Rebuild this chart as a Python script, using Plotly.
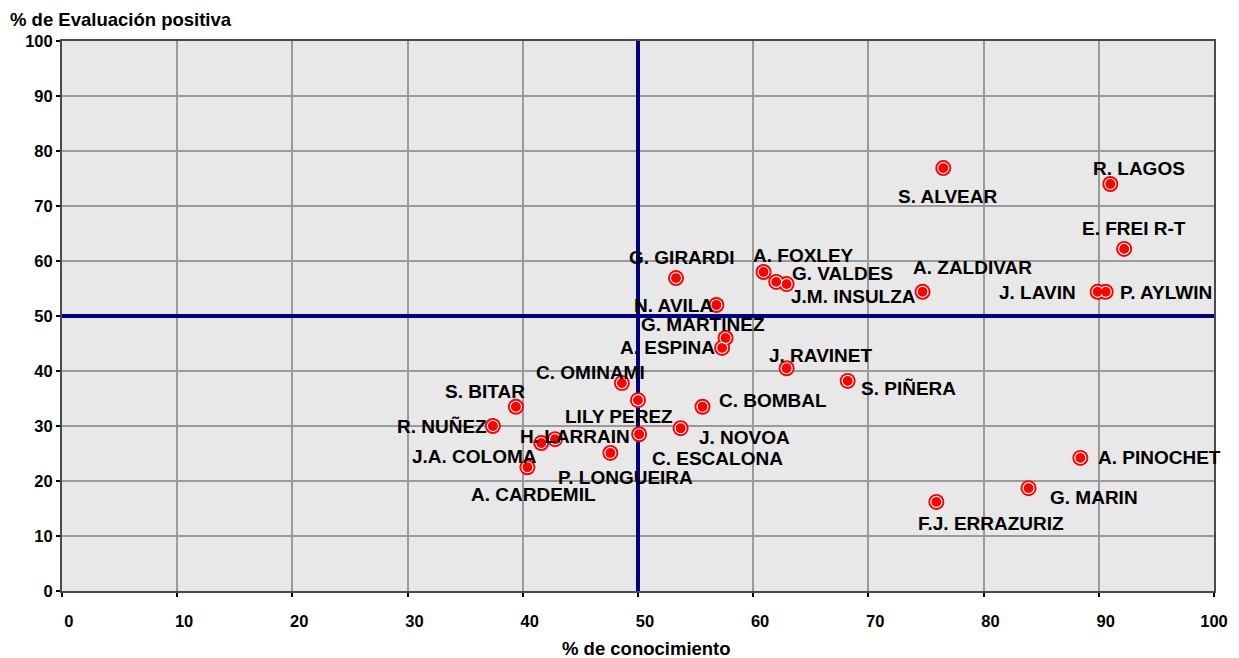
import plotly.graph_objects as go

names = ["S. ALVEAR", "R. LAGOS", "E. FREI R-T", "J. LAVIN", "P. AYLWIN", "A. ZALDIVAR",
         "A. FOXLEY", "G. VALDES", "J.M. INSULZA", "G. GIRARDI", "N. AVILA", "G. MARTINEZ",
         "A. ESPINA", "J. RAVINET", "S. PIÑERA", "C. OMINAMI", "LILY PEREZ", "C. ESCALONA",
         "S. BITAR", "R. NUÑEZ", "H. LARRAIN", "J.A. COLOMA", "A. CARDEMIL", "P. LONGUEIRA",
         "C. BOMBAL", "J. NOVOA", "A. PINOCHET", "G. MARIN", "F.J. ERRAZURIZ"]
conocimiento = [76.5, 91.0, 92.2, 89.9, 90.6, 74.7,
                60.9, 62.0, 62.9, 53.3, 56.8, 57.6,
                57.3, 62.9, 68.2, 48.6, 50.0, 50.1,
                39.4, 37.4, 42.8, 41.6, 40.4, 47.6,
                55.6, 53.7, 88.4, 83.9, 75.9]
evaluacion = [76.9, 74.0, 62.2, 54.4, 54.4, 54.4,
              58.0, 56.2, 55.8, 56.9, 52.0, 46.0,
              44.2, 40.5, 38.2, 37.8, 34.7, 28.5,
              33.5, 30.0, 27.6, 26.9, 22.5, 25.1,
              33.5, 29.6, 24.2, 18.7, 16.2]
x_ticks = list(range(0, 101, 10))
y_ticks = list(range(0, 101, 10))

# label offsets in pixels (dx right, dy down)
label_dx = [5, 29, 10, -60, 60, 50,
            40, 66, 67, 6, -43, -23,
            -55, 34, 61, -31, -19, 78,
            -31, -51, 20, -67, 6, 15,
            70, 64, 79, 65, 55]
label_dy = [28, -16, -20, 1, 1, -24,
            -17, -8, 12, -21, 0, -14,
            0, -13, 8, -11, 16, 24,
            -15, 0, -3, 13, 27, 25,
            -6, 9, 0, 9, 22]

FONT = "Liberation Sans, Arial, sans-serif"
NB = "\u00a0"

fig = go.Figure()
fig.add_trace(go.Scatter(x=conocimiento, y=evaluacion, mode="markers",
                         marker=dict(color="#FF0000", size=16, line=dict(width=0)),
                         hoverinfo="skip", showlegend=False))
fig.add_trace(go.Scatter(x=conocimiento, y=evaluacion, mode="markers",
                         marker=dict(symbol="circle-open", color="#FFFFFF", size=11,
                                     line=dict(width=1.2, color="#FFFFFF")),
                         hoverinfo="skip", showlegend=False))
fig.add_trace(go.Scatter(x=conocimiento, y=evaluacion, mode="markers",
                         marker=dict(color="#FF0000", size=9, line=dict(width=0)),
                         hoverinfo="skip", showlegend=False))

for n, x, y, dx, dy in zip(names, conocimiento, evaluacion, label_dx, label_dy):
    fig.add_annotation(x=x, y=y, text="<b>%s</b>" % n, showarrow=False,
                       xshift=dx, yshift=-dy,
                       font=dict(family=FONT, size=19, color="#000000"))

fig.add_shape(type="line", x0=50, x1=50, y0=0, y1=100, xref="x", yref="y",
              line=dict(color="#000080", width=4), layer="between")
fig.add_shape(type="line", x0=0, x1=100, y0=50, y1=50, xref="x", yref="y",
              line=dict(color="#000080", width=4), layer="between")

fig.add_annotation(x=0, y=1, xref="paper", yref="paper", xanchor="left", yanchor="middle",
                   xshift=-54, yshift=22, showarrow=False,
                   text="<b>% de Evaluación positiva</b>",
                   font=dict(family=FONT, size=18.5, color="#000000"))
fig.add_annotation(x=0.5, y=0, xref="paper", yref="paper", xanchor="center", yanchor="middle",
                   xshift=8, yshift=-57, showarrow=False,
                   text="<b>% de conocimiento</b>",
                   font=dict(family=FONT, size=18.5, color="#000000"))

axis_common = dict(showgrid=True, gridcolor="#9A9A9A", gridwidth=2,
                   showline=True, linecolor="#4A4A4A", linewidth=2, mirror=True,
                   ticks="outside", ticklen=4, tickcolor="#000000", tickwidth=2,
                   zeroline=False, automargin=False,
                   tickfont=dict(family=FONT, size=16.5, color="#000000"))

x_ticktext = ["%s<b>%d</b>" % (NB * 3, v) if v < 100 else "<b>%d</b>" % v for v in x_ticks]

fig.update_layout(
    width=1231, height=650,
    margin=dict(l=54, r=25, t=33, b=67),
    paper_bgcolor="#FFFFFF", plot_bgcolor="#E8E8E8",
    xaxis=dict(range=[0, 100], tickvals=x_ticks, ticktext=x_ticktext,
               ticklabelstandoff=10,
               **axis_common),
    yaxis=dict(range=[0, 100], tickvals=y_ticks, ticktext=["<b>%d</b>" % v for v in y_ticks],
               ticklabelstandoff=0,
               **axis_common),
)

fig.write_html("out.html")
